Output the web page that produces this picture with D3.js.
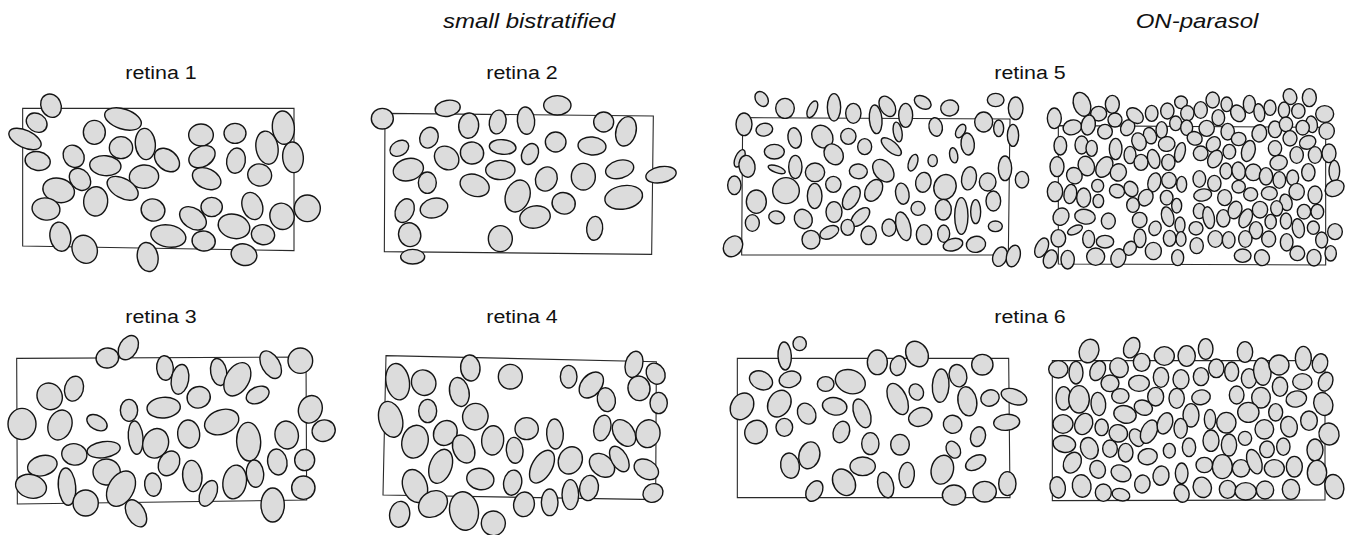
<!DOCTYPE html>
<html>
<head>
<meta charset="utf-8">
<script src="https://cdn.jsdelivr.net/npm/d3@7"></script>
<style>
  body { margin: 0; background: #fff; }
  svg { display: block; }
</style>
</head>
<body>
<svg id="chart" width="1353" height="535"></svg>
<script>
// Group titles and per-retina labels
const groupTitles = ["small bistratified", "ON-parasol"];
const retinaLabels = ["retina 1", "retina 2", "retina 3", "retina 4", "retina 5", "retina 6"];

// Receptive-field fits per recorded cell: [cx, cy, semi-axis x, semi-axis y, tilt in degrees]
// Field units; each panel has its own origin.
const cellsR1 = [
  [153,77,30,36,-25],[110,128,33,27,35],[75,177,52,26,25],[113,243,38,28,10],[283,157,33,36,0],
  [369,117,57,30,18],[363,203,35,33,0],[436,192,30,47,-5],[221,229,30,35,-35],[316,257,47,30,5],
  [501,240,42,30,40],[432,290,44,35,-5],[240,298,29,36,-40],[176,331,48,36,15],[368,325,51,29,30],
  [287,364,36,44,5],[138,387,42,33,10],[459,390,36,33,20],[603,165,37,33,0],[705,160,33,30,0],
  [850,143,33,50,-5],[606,230,42,30,-30],[708,242,28,38,10],[801,203,33,50,-10],[879,232,31,46,-5],
  [620,296,45,30,25],[779,285,36,33,15],[635,381,32,29,0],[579,415,44,30,35],[757,378,30,42,-20],
  [846,409,36,40,-20],[922,385,39,40,0],[702,439,48,36,15],[789,464,35,30,10],[505,468,53,33,10],
  [611,483,35,30,10],[181,470,31,44,-10],[254,508,37,43,-25],[443,531,31,44,-10],[732,524,39,32,15]
];
const cellsR2 = [
  [67,101,33,31,0],[263,70,38,24,-10],[326,122,30,38,5],[413,111,25,36,10],[498,107,26,41,-5],
  [592,61,41,29,0],[731,111,30,30,0],[798,139,30,45,15],[118,190,30,22,-30],[207,158,27,32,25],
  [260,219,39,33,40],[336,204,35,33,10],[428,186,40,22,5],[510,207,24,33,25],[587,171,31,30,0],
  [696,183,42,27,5],[145,254,46,33,-15],[202,293,27,32,0],[421,255,44,29,0],[344,301,45,32,20],
  [559,282,32,37,25],[670,275,36,40,0],[779,253,43,27,-15],[903,269,46,24,-10],[473,333,36,49,20],
  [611,355,35,32,15],[791,337,57,35,-10],[134,377,27,37,25],[222,369,42,29,-15],[525,396,46,33,-10],
  [704,430,24,36,5],[149,449,33,36,-20],[421,461,36,39,0],[158,515,36,22,0]
];
const cellsR3 = [
  [322,99,34,30,-10],[385,68,27,39,30],[495,129,25,37,-5],[540,163,26,45,10],[656,141,24,41,-10],
  [712,163,35,54,30],[812,119,27,45,-30],[901,107,37,38,0],[149,214,37,41,-30],[222,191,28,38,15],
  [596,217,35,32,-15],[773,210,36,24,-25],[66,297,42,47,0],[180,300,35,46,20],[291,293,33,21,30],
  [387,256,26,33,0],[491,248,50,31,-5],[665,291,53,36,-20],[931,253,35,42,20],[971,317,35,32,-20],
  [407,338,22,50,-5],[467,355,38,45,20],[566,327,33,42,-5],[746,350,36,58,-3],[860,330,35,42,-10],
  [223,388,38,32,10],[311,374,50,24,-8],[127,422,45,30,-15],[320,441,41,39,10],[507,415,30,39,30],
  [832,411,29,39,-10],[914,405,30,32,0],[93,484,47,35,15],[201,485,26,56,-5],[363,491,38,57,30],
  [459,479,25,35,-5],[577,453,29,47,-5],[704,471,35,51,10],[765,446,26,41,-5],[625,505,24,41,25],
  [910,488,35,35,-20],[257,534,38,39,0],[408,565,27,44,-30],[818,540,35,51,0]
];
const cellsR4 = [
  [68,140,35,55,-10],[146,143,36,39,-30],[286,99,29,39,-5],[406,125,36,37,0],[581,125,25,34,0],
  [649,150,30,44,40],[777,88,26,40,15],[842,116,27,33,-30],[253,171,29,44,-12],[792,160,33,37,-10],
  [694,194,27,36,-10],[851,204,26,32,0],[47,253,35,55,-15],[158,228,27,35,0],[301,245,38,40,20],
  [120,320,39,50,15],[211,294,34,39,35],[266,342,31,44,-25],[353,316,33,44,5],[455,281,35,33,0],
  [540,297,25,45,-3],[419,346,25,39,-5],[682,279,25,39,15],[747,294,30,44,-35],[819,296,36,42,10],
  [197,394,33,53,20],[501,395,30,54,30],[586,376,35,42,25],[681,391,42,31,40],[733,372,24,42,-30],
  [814,403,39,28,30],[120,453,36,51,-20],[316,432,41,32,10],[413,443,27,38,10],[174,507,46,37,-35],
  [267,528,43,58,-10],[74,538,30,39,10],[355,565,36,37,-10],[447,508,31,37,10],[524,502,25,40,0],
  [586,479,25,45,0],[642,459,28,38,10],[834,474,31,27,-30]
];
const cellsR5a = [
  [140,42,18,24,-35],[210,70,28,30,0],[292,73,13,27,25],[357,67,20,41,0],[415,85,23,30,0],
  [482,103,19,43,-5],[517,64,22,33,-30],[572,91,21,36,0],[623,52,27,18,30],[704,69,27,24,-10],
  [842,45,25,20,0],[902,70,22,34,0],[87,118,24,34,0],[148,134,25,19,-10],[239,159,20,31,-10],
  [322,155,30,36,-35],[400,154,23,24,0],[449,185,21,24,0],[548,141,13,30,-10],[529,185,16,37,-50],
  [662,126,20,28,-10],[737,138,13,22,30],[758,177,20,33,-5],[806,111,27,30,0],[851,130,15,25,0],
  [894,151,17,33,0],[178,200,30,22,0],[356,208,27,33,-35],[74,220,13,28,25],[96,244,24,33,-10],
  [185,253,27,10,20],[241,246,20,35,0],[300,262,29,28,0],[430,259,27,22,5],[505,257,27,38,-40],
  [594,233,13,26,20],[653,227,14,18,0],[716,211,12,23,-10],[870,250,20,37,0],[58,301,20,28,0],
  [213,317,40,39,0],[299,333,22,38,0],[355,298,23,24,0],[409,339,22,38,30],[476,316,24,35,30],
  [562,326,20,32,-10],[625,292,23,30,10],[690,306,33,38,20],[762,280,22,35,10],[818,291,25,27,0],
  [921,284,20,25,0],[124,350,30,35,0],[835,348,22,30,0],[185,397,24,19,15],[265,402,26,30,-30],
  [357,381,24,31,0],[436,396,19,35,45],[609,370,21,21,0],[685,374,24,31,0],[739,393,20,55,0],
  [782,380,15,36,0],[112,414,21,25,0],[398,427,20,24,0],[522,428,21,26,0],[565,424,21,44,-15],
  [841,424,21,16,0],[343,442,30,18,-25],[288,464,27,28,0],[461,451,23,28,0],[627,449,23,30,0],
  [686,446,18,26,0],[714,479,30,18,-15],[783,478,29,24,-10],[54,484,27,33,35],[855,515,21,30,20],
  [895,513,20,33,15]
];
const cellsR5b = [
  [171,58,25,37,-20],[262,58,21,27,0],[221,86,24,22,0],[88,100,21,31,0],[142,127,28,22,-15],
  [190,120,21,30,10],[240,140,22,22,0],[270,105,21,21,0],[308,128,20,25,30],[330,92,28,20,40],
  [380,85,19,24,0],[427,78,20,24,0],[468,52,19,19,0],[452,115,18,22,0],[410,135,17,25,0],
  [375,152,19,25,-20],[342,170,21,27,-20],[106,182,19,28,0],[170,180,20,27,0],[200,190,17,24,0],
  [272,192,19,32,0],[425,177,25,22,-10],[465,202,15,30,15],[315,210,18,26,0],[348,232,21,24,0],
  [386,222,18,29,-15],[430,232,20,24,0],[96,245,21,30,0],[184,243,24,30,-20],[238,246,23,33,30],
  [280,262,24,26,20],[148,272,23,25,-30],[388,292,19,29,15],[432,286,22,24,0],[470,298,15,24,0],
  [218,302,18,19,0],[90,320,23,30,0],[136,327,19,29,10],[176,338,21,29,0],[276,318,23,20,20],
  [318,312,20,24,-30],[362,338,21,26,30],[220,348,16,20,0],[324,360,19,22,0],[425,338,19,22,0],
  [455,362,15,22,0],[108,395,23,27,30],[180,395,31,22,10],[250,408,21,24,0],[344,405,22,23,0],
  [428,395,18,30,-15],[465,420,15,24,0],[150,435,24,12,-25],[390,430,18,22,20],[100,460,22,26,0],
  [191,462,18,26,0],[240,470,26,19,0],[345,460,18,28,0],[434,460,19,24,0],[468,462,15,22,0],
  [50,488,18,31,25],[76,522,20,28,20],[128,524,20,28,0],[212,515,27,26,0],[280,519,22,28,15],
  [315,490,18,22,30],[385,498,24,26,0],[458,518,18,24,0],
  [563,45,20,24,0],[605,58,17,22,0],[673,58,18,27,0],[735,68,18,23,0],[795,35,20,24,-20],
  [853,38,21,27,0],[487,85,20,23,0],[527,75,20,25,0],[580,98,19,24,0],[639,85,21,26,-30],
  [703,83,16,27,-10],[777,75,17,24,0],[820,78,20,22,0],[899,87,27,25,0],[860,118,17,25,-10],
  [485,128,18,23,0],[545,130,23,24,0],[608,140,20,25,0],[703,145,22,26,10],[750,133,20,25,0],
  [783,118,20,22,0],[833,128,20,22,0],[905,138,23,25,0],[509,160,23,20,20],[565,178,20,24,30],
  [641,162,22,20,0],[795,160,21,23,0],[848,172,25,20,-20],[527,205,22,22,0],[570,222,20,28,30],
  [613,200,19,22,0],[670,198,20,32,15],[750,190,20,23,0],[815,210,20,25,0],[870,210,20,25,0],
  [912,205,21,28,0],[603,258,18,24,0],[641,258,20,27,-10],[685,262,24,25,0],[723,274,20,26,0],
  [761,233,26,22,-15],[763,285,19,25,0],[803,278,18,23,0],[850,262,20,26,0],[928,258,16,32,0],
  [523,282,19,25,0],[568,295,20,24,0],[533,330,27,18,-10],[599,338,21,24,0],[641,305,20,19,0],
  [677,328,21,20,0],[733,325,24,20,0],[783,352,18,25,-15],[815,320,23,25,0],[870,330,21,27,0],
  [929,310,30,23,-30],[523,378,18,23,0],[551,398,17,33,-10],[595,400,20,26,0],[630,375,20,27,20],
  [662,400,18,30,25],[705,374,23,25,0],[755,370,18,23,0],[837,380,20,22,0],[877,380,19,22,0],
  [513,430,21,20,0],[693,436,20,26,0],[737,410,17,22,0],[783,408,17,24,0],[820,430,18,29,-10],
  [865,428,18,20,0],[930,440,22,24,0],[571,462,22,25,0],[611,465,19,25,0],[661,462,20,25,0],
  [731,462,21,24,0],[785,472,19,26,0],[890,465,18,24,0],[515,482,20,24,0],[653,512,25,20,0],
  [711,518,22,24,-20],[817,505,22,22,0],[867,518,21,25,0],[917,505,17,23,0]
];
const cellsR6a = [
  [194,93,20,42,-3],[239,56,20,21,0],[472,112,30,37,0],[534,122,23,30,15],[591,87,32,40,-30],
  [787,119,32,31,0],[123,166,36,27,25],[210,163,33,24,-15],[317,177,25,22,0],[391,170,46,35,20],
  [533,222,27,50,-25],[589,201,21,25,-25],[662,182,25,50,3],[714,152,26,34,-15],[742,229,28,44,-10],
  [810,219,28,24,-20],[882,215,40,22,20],[66,244,33,42,30],[178,236,33,42,30],[260,266,26,33,-30],
  [344,244,37,26,10],[426,265,24,45,-20],[601,276,36,27,-20],[698,298,28,27,10],[860,292,39,24,-5],
  [108,321,33,36,30],[193,307,25,27,0],[364,321,24,33,20],[774,335,22,30,15],[451,356,26,33,0],
  [540,359,28,31,0],[700,374,20,27,-30],[268,391,31,41,15],[210,422,28,38,-10],[428,424,38,28,0],
  [767,413,33,20,-30],[667,434,33,44,15],[560,450,23,38,5],[372,472,32,42,-30],[497,480,23,39,-15],
  [283,498,23,33,30],[702,510,35,30,0],[794,500,35,31,0],[862,476,26,36,0]
];
const cellsR6b = [
  [162,63,29,36,20],[290,53,23,32,25],[320,97,25,27,0],[388,78,30,28,0],[455,78,26,31,0],
  [70,118,29,26,0],[123,128,21,34,0],[188,122,22,31,25],[252,113,27,30,-30],[225,160,27,25,0],
  [312,160,31,24,0],[378,142,23,30,0],[438,148,24,29,0],[86,205,23,35,0],[132,208,31,41,0],
  [190,222,22,35,-5],[256,198,26,22,0],[362,200,24,28,0],[425,205,23,30,0],[270,253,34,26,15],
  [325,233,28,22,20],[468,256,24,35,0],[84,282,30,28,0],[146,282,26,33,25],[200,292,20,25,0],
  [250,310,28,26,15],[305,323,20,28,-30],[342,305,23,37,25],[390,280,22,33,20],[437,295,20,30,0],
  [88,342,34,25,10],[163,355,26,33,-20],[225,356,22,26,0],[272,368,22,28,0],[338,380,29,24,-10],
  [403,362,18,22,0],[462,352,20,28,0],[112,398,25,33,30],[188,418,23,27,-20],[258,430,31,24,25],
  [322,462,23,27,10],[378,437,24,29,10],[440,430,19,31,0],[68,472,23,32,-10],[140,468,28,34,-10],
  [205,488,24,26,0],[258,494,27,18,15],[440,490,22,27,-20],
  [512,57,22,31,0],[630,66,23,31,0],[805,85,24,36,0],[855,100,23,29,15],[544,115,23,28,0],
  [590,125,21,29,0],[642,145,23,29,0],[682,125,26,41,-5],[732,105,30,30,0],[735,170,23,29,0],
  [802,155,29,24,0],[872,155,21,29,20],[498,140,23,27,0],[498,202,28,22,-10],[605,195,22,27,0],
  [678,203,28,31,0],[784,207,31,24,-10],[865,222,28,35,-20],[525,268,17,30,0],[574,278,29,31,0],
  [640,247,32,30,0],[722,247,21,26,0],[762,290,25,31,-10],[822,272,25,29,0],[882,312,30,33,-15],
  [528,332,24,32,0],[582,345,23,33,0],[630,325,20,21,0],[688,298,28,29,0],[696,358,22,25,0],
  [745,350,20,26,0],[840,360,24,33,0],[508,405,25,23,0],[562,410,30,36,0],[618,415,26,26,0],
  [658,395,21,38,-20],[718,415,30,26,0],[778,410,24,31,0],[846,428,29,37,0],[502,472,27,31,-20],
  [578,478,25,27,0],[632,484,32,26,0],[690,480,26,27,0],[768,478,26,30,0],[898,470,28,37,-15]
];

// Sampled region outline of each recording (corner points, field units)
const frameR1 = [[68,85],[882,85],[882,512],[68,498]];
const frameR2 = [[75,85],[880,93],[875,508],[73,500]];
const frameR3 = [[50,100],[918,96],[920,525],[52,537]];
const frameR4 = [[33,62],[844,80],[842,494],[24,480]];
const frameR5a = [[83,98],[885,102],[880,510],[80,510]];
const frameR5b = [[100,122],[902,127],[902,540],[100,537]];
const frameR6a = [[52,100],[866,100],[870,518],[52,518]];
const frameR6b = [[52,92],[870,92],[870,510],[52,512]];

// Panel placement on the page
const panels = [
  { cells: cellsR1,  frame: frameR1,  ox: 0,    oy: 80 },
  { cells: cellsR2,  frame: frameR2,  ox: 360,  oy: 85 },
  { cells: cellsR3,  frame: frameR3,  ox: 0,    oy: 325 },
  { cells: cellsR4,  frame: frameR4,  ox: 375,  oy: 335 },
  { cells: cellsR5a, frame: frameR5a, ox: 715,  oy: 85 },
  { cells: cellsR5b, frame: frameR5b, ox: 1025, oy: 85 },
  { cells: cellsR6a, frame: frameR6a, ox: 720,  oy: 325 },
  { cells: cellsR6b, frame: frameR6b, ox: 1035, oy: 330 }
];

const titlePos = [[529, 28], [1197, 28]];
const labelPos = [[161, 79], [522, 79], [161, 323], [522, 323], [1030, 79], [1030, 323]];

const svg = d3.select("#chart");
const FONT = "'Liberation Sans', Arial, Helvetica, sans-serif";

panels.forEach(p => {
  const x = d3.scaleLinear().domain([0, 3]).range([p.ox, p.ox + 1]);
  const y = d3.scaleLinear().domain([0, 3]).range([p.oy, p.oy + 1]);
  const r = d3.scaleLinear().domain([0, 3]).range([0, 1]);
  const g = svg.append("g");

  g.append("path")
    .attr("d", d3.line().x(d => x(d[0])).y(d => y(d[1])).curve(d3.curveLinearClosed)(p.frame))
    .attr("fill", "none")
    .attr("stroke", "#2a2a2a")
    .attr("stroke-width", 1.1);

  g.selectAll("ellipse")
    .data(p.cells)
    .join("ellipse")
    .attr("transform", d => `translate(${x(d[0])},${y(d[1])}) rotate(${d[4]})`)
    .attr("rx", d => r(d[2]))
    .attr("ry", d => r(d[3]))
    .attr("fill", "#dcdcdc")
    .attr("stroke", "#141414")
    .attr("stroke-width", 1.4);
});

svg.selectAll("text.title")
  .data(groupTitles)
  .join("text")
  .attr("class", "title")
  .attr("transform", (d, i) => `translate(${titlePos[i][0]},${titlePos[i][1]}) scale(1.2,1)`)
  .attr("text-anchor", "middle")
  .attr("font-family", FONT)
  .attr("font-style", "italic")
  .attr("font-size", 20)
  .attr("fill", "#111")
  .text(d => d);

svg.selectAll("text.label")
  .data(retinaLabels)
  .join("text")
  .attr("class", "label")
  .attr("transform", (d, i) => `translate(${labelPos[i][0]},${labelPos[i][1]}) scale(1.19,1)`)
  .attr("text-anchor", "middle")
  .attr("font-family", FONT)
  .attr("font-size", 18)
  .attr("fill", "#111")
  .text(d => d);
</script>
</body>
</html>
